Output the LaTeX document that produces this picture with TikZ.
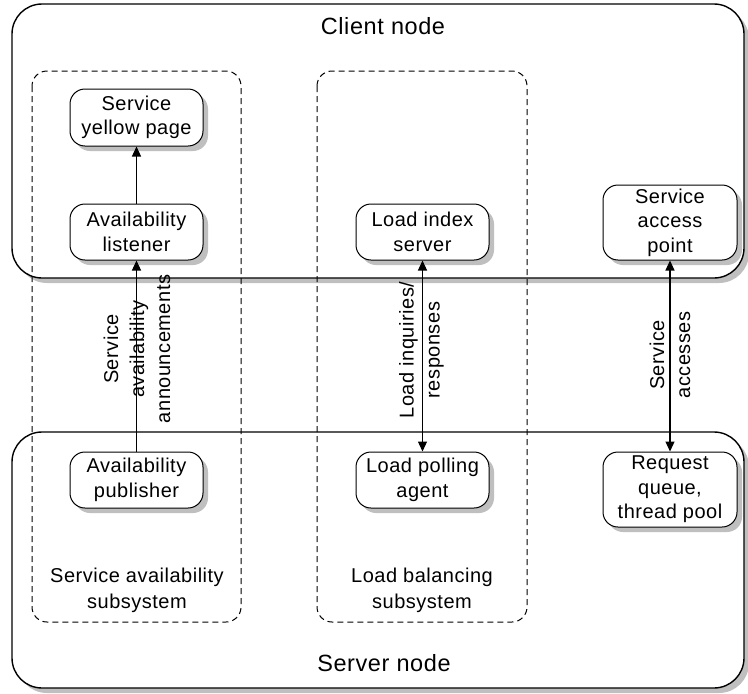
\documentclass[tikz,border=0pt]{standalone}
\usepackage{fontspec}
\setmainfont{Liberation Sans}[LetterSpace=2.5]
\usetikzlibrary{arrows.meta,shadows}
\begin{document}
\begin{tikzpicture}[x=1pt,y=-1pt,
  shad/.style={drop shadow={shadow xshift=5pt,shadow yshift=-5pt,fill=black!25,opacity=1}},
  outerbox/.style={draw=black,line width=1.4pt,fill=white,rounded corners=30pt,shad},
  subbox/.style={draw=black,line width=1pt,dash pattern=on 6pt off 4pt,rounded corners=15pt},
  comp/.style={draw=black,line width=1pt,fill=white,rounded corners=15pt,shad,align=center,
    minimum width=133pt,inner sep=0pt,font=\fontsize{20}{24.5}\selectfont},
  lbl/.style={align=center,font=\fontsize{20}{26}\selectfont,inner sep=0pt},
  ttl/.style={font=\fontsize{23.5}{26}\selectfont,inner sep=0pt},
  arr/.style={line width=1.2pt,-{Triangle[length=10pt,width=9pt]}},
  darr/.style={line width=1.2pt,{Triangle[length=10pt,width=9pt]}-{Triangle[length=10pt,width=9pt]}}]
\useasboundingbox (0,0) rectangle (748,694);
% outer nodes
\path[outerbox] (12,4) rectangle (744,278);
\path[outerbox] (12,432) rectangle (744,688);
\node[ttl] (client) at (383,26) {Client node};
\node[ttl] (server) at (384,663) {Server node};
% subsystems
\draw[subbox] (32,71) rectangle (241,622);
\draw[subbox] (317,71) rectangle (527,622);
\node[lbl] (sas) at (137,590) {Service availability\\subsystem};
\node[lbl] (lbs) at (422,590) {Load balancing\\subsystem};
% components
\node[comp,minimum height=57pt] (yp) at (136.5,117.5) {Service\\yellow page};
\node[comp,minimum height=56pt] (al) at (136.5,232) {Availability\\listener};
\node[comp,minimum height=56pt] (lis) at (422.5,232) {Load index\\server};
\node[comp,minimum height=75pt,minimum width=134pt] (sap) at (670,222.5) {Service\\access\\point};
\node[comp,minimum height=56pt] (ap) at (136.5,480) {Availability\\publisher};
\node[comp,minimum height=56pt] (lpa) at (422.5,480) {Load polling\\agent};
\node[comp,minimum height=75pt,minimum width=134pt] (rq) at (670,489.5) {Request\\queue,\\thread pool};
% connectors
\draw[arr] (al) -- (yp);
\draw[arr] (ap) -- (al);
\draw[darr] (lis) -- (lpa);
\draw[darr] (sap.south) -- (rq.north);
% labels
\node[lbl,rotate=90] (l1) at (137,349) {Service\\availability\\announcements};
\node[lbl,rotate=90] (l2) at (421.5,350) {Load inquiries/\\responses};
\node[lbl,rotate=90] (l3) at (670,355) {Service\\accesses};
\end{tikzpicture}
\end{document}
